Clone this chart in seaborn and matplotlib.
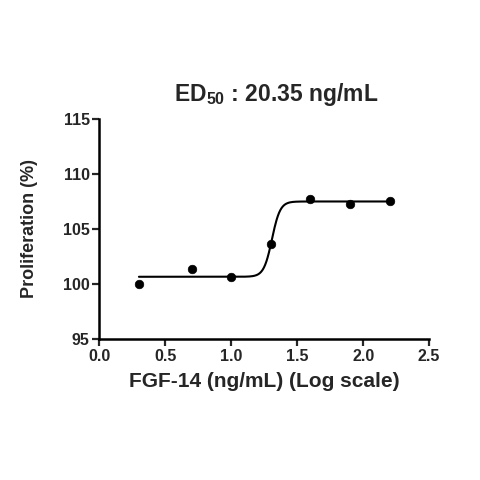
import numpy as np
import pandas as pd
import matplotlib
matplotlib.use('Agg')
import matplotlib.pyplot as plt
import seaborn as sns

# measured points (log10 of FGF-14 ng/mL vs proliferation %)
log_conc = [0.30, 0.70, 1.00, 1.30, 1.60, 1.90, 2.20]
prolif = [100.0, 101.4, 100.6, 103.6, 107.7, 107.3, 107.5]

# 4PL fit parameters
bottom = 100.65
top = 107.5
log_ed50 = 1.3086   # log10(20.35)
hill = 14.0

df = pd.DataFrame({'x': log_conc, 'y': prolif})
xf = np.linspace(min(log_conc), max(log_conc), 400)
fit = pd.DataFrame({'x': xf,
                    'y': bottom + (top - bottom) / (1 + 10 ** ((log_ed50 - xf) * hill))})

sns.set_style('ticks')
plt.rcParams['font.family'] = ['Liberation Sans', 'DejaVu Sans']
plt.rcParams['font.weight'] = 'bold'
plt.rcParams['mathtext.fontset'] = 'custom'
plt.rcParams['mathtext.rm'] = 'Liberation Sans:bold'
plt.rcParams['mathtext.bf'] = 'Liberation Sans:bold'
plt.rcParams['mathtext.default'] = 'rm'

fig = plt.figure(figsize=(4.8, 4.8), dpi=100)
ax = fig.add_axes([0.207, 0.294, 0.687, 0.458])

sns.lineplot(data=fit, x='x', y='y', color='black', linewidth=1.5, ax=ax)
sns.scatterplot(data=df, x='x', y='y', color='black', s=38, edgecolor='black', ax=ax, zorder=3)

ax.set_xlim(0, 2.5)
ax.set_ylim(95, 115)
ax.set_xticks([0.0, 0.5, 1.0, 1.5, 2.0, 2.5])
ax.set_yticks([95, 100, 105, 110, 115])
ax.set_xticklabels(['0.0', '0.5', '1.0', '1.5', '2.0', '2.5'])
ax.tick_params(direction='out', length=5, width=1.6, labelsize=11.5, pad=2)
for lab in ax.get_xticklabels() + ax.get_yticklabels():
    lab.set_fontweight('bold')
sns.despine(ax=ax)
for s in ['left', 'bottom']:
    ax.spines[s].set_linewidth(1.8)
    ax.spines[s].set_color('black')

ax.set_xlabel('FGF-14 (ng/mL) (Log scale)', fontsize=15, fontweight='bold', labelpad=6)
ax.set_ylabel('Proliferation (%)', fontsize=13, fontweight='bold', labelpad=18)
ax.set_title('ED$_{50}$ : 20.35 ng/mL', fontsize=16.5, fontweight='bold', pad=13, x=0.536)

fig.savefig('out.png', dpi=100)
